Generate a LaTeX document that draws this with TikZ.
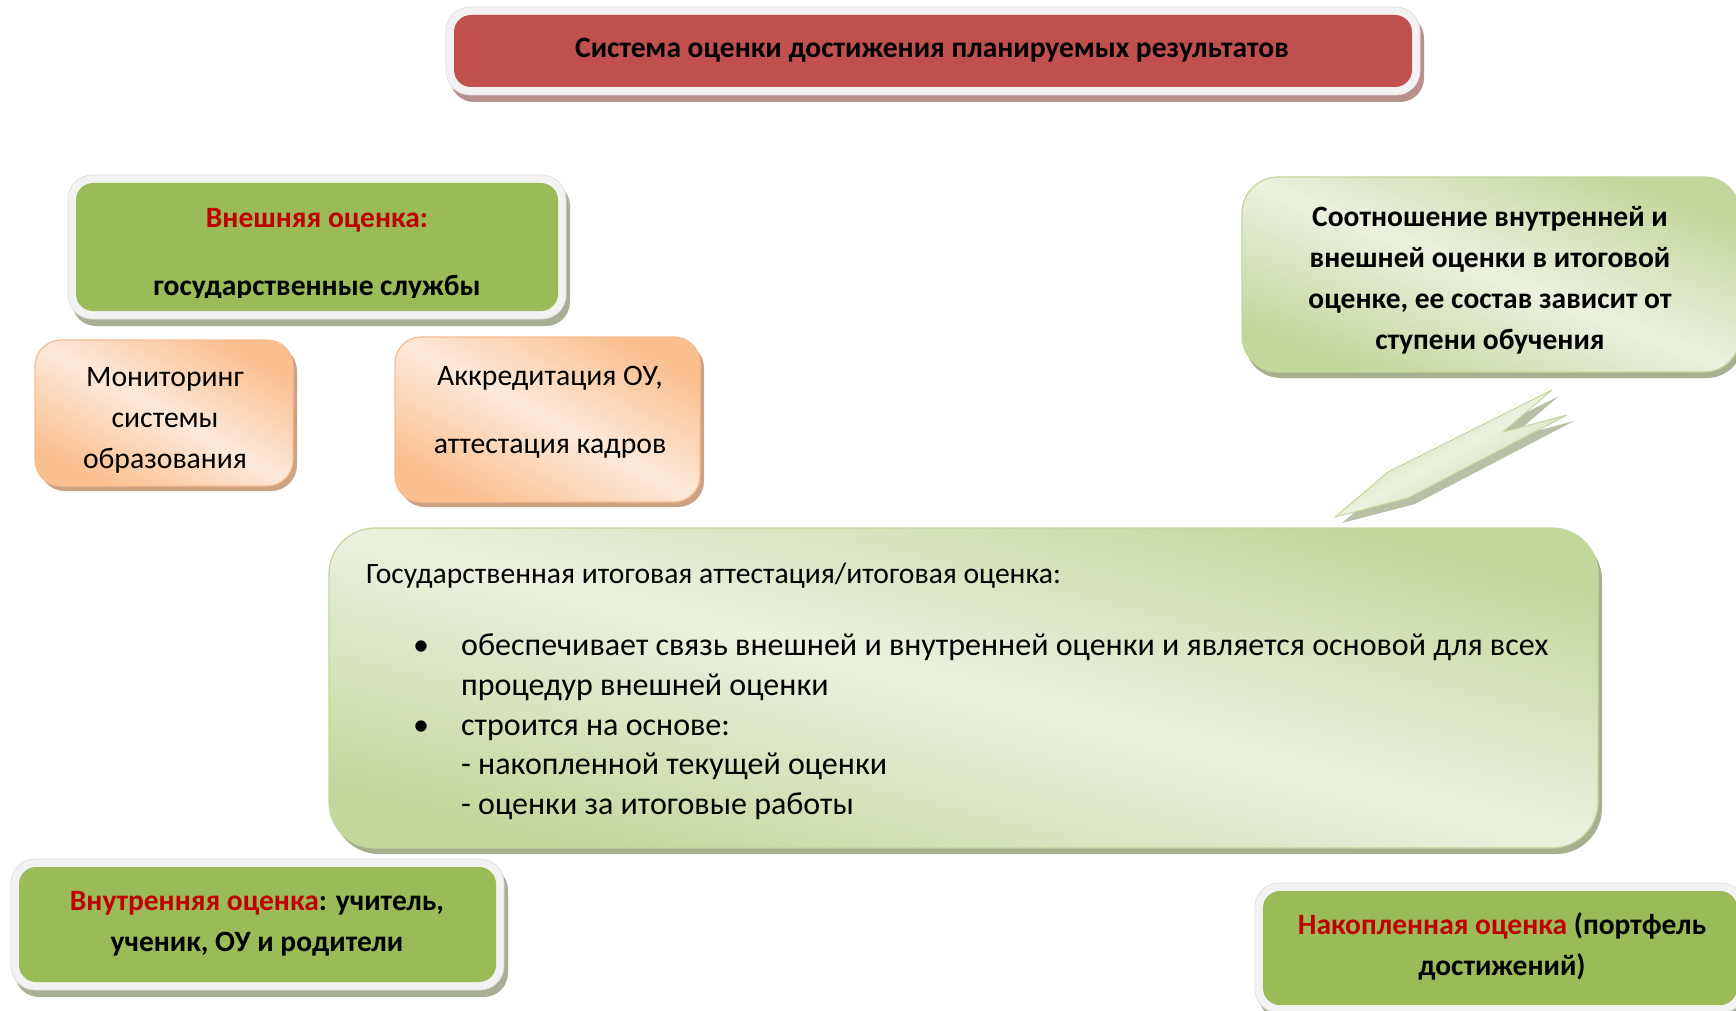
\documentclass[tikz,border=0pt]{standalone}
\usepackage{fontspec}
\setmainfont{Carlito}
\definecolor{solidgreen}{HTML}{9BBB59}
\definecolor{titlered}{HTML}{C0504D}
\definecolor{redtext}{HTML}{C00000}
\definecolor{framegrey}{HTML}{F2F2F2}
\definecolor{framedge}{HTML}{DCDCDC}
\definecolor{shgreen}{HTML}{A7AF96}
\definecolor{shred}{HTML}{B8918E}
\definecolor{gdark}{HTML}{C3D69B}
\definecolor{glight}{HTML}{EBF1DE}
\definecolor{gshadow}{HTML}{A6B08E}
\definecolor{odark}{HTML}{FABF8F}
\definecolor{olight}{HTML}{FDE9D9}
\definecolor{oedge}{HTML}{F8BC90}
\definecolor{oshadow}{HTML}{CBA283}
\newcommand{\frmbox}[6]{%
  \fill[#6, rounded corners=24pt] (#1+4,#2+7) rectangle (#3+4,#4+7);
  \filldraw[fill=framegrey, draw=framedge, line width=0.6pt, rounded corners=24pt] (#1,#2) rectangle (#3,#4);
  \fill[#5, rounded corners=17pt] (#1+8,#2+8) rectangle (#3-8,#4-8);}
\newcommand{\orgbox}[5]{%
  \fill[oshadow, rounded corners=26pt] (#1+4,#2+5) rectangle (#3+4,#4+5);
  \shadedraw[ograd=#5] (#1,#2) rectangle (#3,#4);}
\begin{document}
\begin{tikzpicture}[x=1pt,y=-1pt,
  txt/.style={inner sep=0pt, anchor=base},
  txtl/.style={inner sep=0pt, anchor=base west},
  boldtx/.style={font=\fontsize{29.5}{40}\selectfont\bfseries},
  regtx/.style={font=\fontsize{29.7}{40}\selectfont},
  bigtx/.style={font=\fontsize{32}{40}\selectfont},
  ograd/.style={top color=odark, bottom color=odark, middle color=olight, shading angle=#1, draw=oedge, line width=1.2pt, rounded corners=26pt},
  ggrad/.style={top color=gdark, bottom color=gdark, middle color=glight, shading angle=#1, draw=gdark, line width=1.2pt},
]
\useasboundingbox (0,0) rectangle (1736,1011);
\clip (0,0) rectangle (1736,1011);
\fill[white] (0,0) rectangle (1736,1011);

% title
\frmbox{446}{7}{1420}{95}{titlered}{shred}
\node[txt, boldtx] (title) at (932,58) {Система оценки достижения планируемых результатов};

% external assessment
\frmbox{68}{175}{566}{319}{solidgreen}{shgreen}
\node[txt, boldtx, text=redtext] (ext1) at (317,227) {Внешняя оценка:};
\begin{scope}
\clip (76,183) rectangle (558,297);
\node[txt, boldtx] (ext2) at (317,295) {государственные службы};
\end{scope}

% orange boxes
\orgbox{35}{340}{293}{486}{-29}
\begin{scope}
\clip (35,340) rectangle (293,472);
\node[txt, regtx] (mon1) at (165,386) {Мониторинг};
\node[txt, regtx] (mon2) at (165,427) {системы};
\node[txt, regtx] (mon3) at (165,468) {образования};
\end{scope}
\orgbox{395}{337}{700}{502}{-28}
\node[txt, regtx] (acc1) at (550,385) {Аккредитация ОУ,};
\node[txt, regtx] (acc2) at (550,453) {аттестация кадров};

% top right box
\fill[gshadow, rounded corners=36pt] (1245,183) rectangle (1743,378);
\shadedraw[ggrad=-21, rounded corners=36pt] (1242,177) rectangle (1740,372);
\node[txt, boldtx] (rel1) at (1490,226) {Соотношение внутренней и};
\node[txt, boldtx] (rel2) at (1490,267) {внешней оценки в итоговой};
\node[txt, boldtx] (rel3) at (1490,308) {оценке, ее состав зависит от};
\node[txt, boldtx] (rel4) at (1490,349) {ступени обучения};

% arrow
\coordinate (atip) at (1335,517);
\coordinate (aup) at (1388,472);
\coordinate (aend1) at (1552,390);
\coordinate (anotch) at (1503,432);
\coordinate (aend2) at (1567,415);
\coordinate (alow) at (1408,498);
\fill[gshadow, opacity=0.8] ([shift={(7,6)}]atip) -- ([shift={(7,6)}]aup) -- ([shift={(7,6)}]aend1) -- ([shift={(7,6)}]anotch) -- ([shift={(7,6)}]aend2) -- ([shift={(7,6)}]alow) -- cycle;
\shadedraw[top color=gdark, bottom color=gdark, middle color=glight, shading angle=30, draw=gdark, line width=1pt, line join=round] (atip) -- (aup) -- (aend1) -- (anotch) -- (aend2) -- (alow) -- cycle;

% main box
\fill[gshadow, rounded corners=46pt] (333,534) rectangle (1602,854);
\shadedraw[ggrad=-14, rounded corners=46pt] (329,528) rectangle (1598,848);
\node[txtl, font=\fontsize{29.6}{40}\selectfont] (hd) at (366,583) {Государственная итоговая аттестация/итоговая оценка:};
\node[txt, bigtx] (bul1) at (421,655) {•};
\node[txtl, bigtx] (l1) at (461,655) {обеспечивает связь внешней и внутренней оценки и является основой для всех};
\node[txtl, bigtx] (l2) at (461,695) {процедур внешней оценки};
\node[txt, bigtx] (bul2) at (421,735) {•};
\node[txtl, bigtx] (l3) at (461,735) {строится на основе:};
\node[txtl, bigtx] (l4) at (461,774) {- накопленной текущей оценки};
\node[txtl, bigtx] (l5) at (461,814) {- оценки за итоговые работы};

% internal assessment
\frmbox{11}{859}{504}{990}{solidgreen}{shgreen}
\node[txt, boldtx] (int1) at (257,910) {\textcolor{redtext}{Внутренняя оценка}: учитель,};
\node[txt, boldtx] (int2) at (257,951) {ученик, ОУ и родители};

% accumulated assessment
\frmbox{1255}{883}{1745}{1013}{solidgreen}{shgreen}
\node[txt, boldtx] (acm1) at (1502,934) {\textcolor{redtext}{Накопленная оценка} (портфель};
\node[txt, boldtx] (acm2) at (1502,975) {достижений)};
\end{tikzpicture}
\end{document}
